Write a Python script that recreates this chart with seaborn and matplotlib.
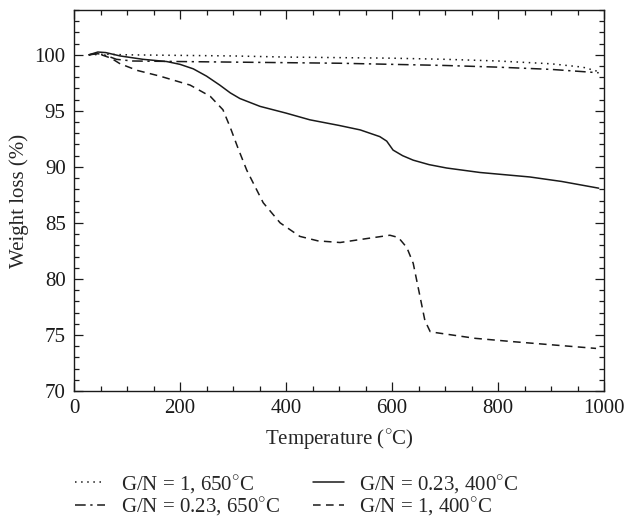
import pandas as pd
import matplotlib
matplotlib.use("Agg")
import matplotlib.pyplot as plt
from matplotlib.ticker import MultipleLocator
import seaborn as sns

# =====================================================
# DATA
# =====================================================

temp_gn1_650 = [28, 60, 100, 200, 300, 400, 500, 600, 700, 800, 900, 960, 990]
wt_gn1_650 = [100.0, 100.05, 100.0, 99.95, 99.9, 99.8, 99.75, 99.7, 99.6,
              99.45, 99.2, 98.9, 98.5]

temp_gn023_650 = [28, 45, 60, 80, 110, 200, 300, 400, 500, 600, 700, 800,
                  900, 990]
wt_gn023_650 = [100.0, 100.1, 99.95, 99.6, 99.45, 99.4, 99.35, 99.3, 99.25,
                99.15, 99.05, 98.9, 98.7, 98.4]

temp_gn023_400 = [28, 45, 60, 87, 130, 175, 200, 225, 250, 275, 295, 313,
                  351, 400, 445, 500, 540, 577, 590, 602, 620, 640, 670, 703,
                  766, 860, 920, 990]
wt_gn023_400 = [100.0, 100.25, 100.2, 99.9, 99.6, 99.4, 99.15, 98.75, 98.1,
                97.3, 96.6, 96.1, 95.4, 94.8, 94.2, 93.7, 93.3, 92.7, 92.3,
                91.5, 91.0, 90.6, 90.2, 89.9, 89.5, 89.1, 88.7, 88.1]

temp_gn1_400 = [28, 40, 55, 70, 87, 120, 162, 219, 257, 281, 295, 310, 326,
                357, 389, 426, 460, 502, 552, 596, 612, 628, 640, 653, 662,
                672, 684, 757, 829, 985]
wt_gn1_400 = [100.0, 100.1, 99.95, 99.7, 99.2, 98.6, 98.1, 97.3, 96.3, 95.1,
              93.5, 91.6, 89.7, 86.8, 85.0, 83.8, 83.4, 83.25, 83.6, 83.9,
              83.7, 82.8, 81.4, 78.4, 76.3, 75.3, 75.2, 74.7, 74.4, 73.8]

labels = [
    "G/N = 1, 650$^{\\circ}$C",
    "G/N = 0.23, 650$^{\\circ}$C",
    "G/N = 0.23, 400$^{\\circ}$C",
    "G/N = 1, 400$^{\\circ}$C",
]

# =====================================================
# STYLE
# =====================================================

sns.set_theme(style="ticks")
plt.rcParams["font.family"] = ["Liberation Serif", "DejaVu Serif"]
plt.rcParams["mathtext.fontset"] = "custom"
plt.rcParams["mathtext.rm"] = "Liberation Serif"
plt.rcParams["font.size"] = 15

series = [
    (temp_gn1_650, wt_gn1_650, (0, (1, 3))),
    (temp_gn023_650, wt_gn023_650, (0, (7, 3, 1.5, 3))),
    (temp_gn023_400, wt_gn023_400, "-"),
    (temp_gn1_400, wt_gn1_400, (0, (5, 3.5))),
]

# =====================================================
# PLOT
# =====================================================

fig = plt.figure(figsize=(6.27, 5.18), dpi=100)
ax = fig.add_axes([74 / 627, 1 - 391 / 518, 530 / 627, 381 / 518])

for (t, w, ls), lab in zip(series, labels):
    sns.lineplot(
        x=t,
        y=w,
        ax=ax,
        color="#1a1a1a",
        linewidth=1.1,
        linestyle=ls,
        label=lab,
        legend=False
    )

ax.set_xlim(0, 1000)
ax.set_ylim(70, 104)

ax.xaxis.set_major_locator(MultipleLocator(200))
ax.xaxis.set_minor_locator(MultipleLocator(50))
ax.yaxis.set_major_locator(MultipleLocator(5))
ax.yaxis.set_minor_locator(MultipleLocator(1))

ax.tick_params(which="both", direction="in", top=True, right=True,
               color="#1a1a1a", width=0.9, labelsize=15, colors="#1a1a1a")
ax.tick_params(which="major", length=6.5, pad=6)
ax.tick_params(which="minor", length=3.5)

for sp in ax.spines.values():
    sp.set_linewidth(1.0)
    sp.set_color("#1a1a1a")

ax.set_xlabel("Temperature ($^{\\circ}$C)", fontsize=15, labelpad=7)
ax.set_ylabel("Weight loss (%)", fontsize=15, labelpad=4)

handles, labs = ax.get_legend_handles_labels()
fig.legend(
    handles,
    labs,
    loc="upper left",
    bbox_to_anchor=(75 / 627, 1 - 473 / 518),
    ncol=2,
    frameon=False,
    fontsize=15,
    handlelength=1.45,
    handletextpad=0.75,
    columnspacing=1.6,
    borderpad=0,
    borderaxespad=0,
    labelspacing=0.0
)

fig.savefig("out.png", dpi=100)
